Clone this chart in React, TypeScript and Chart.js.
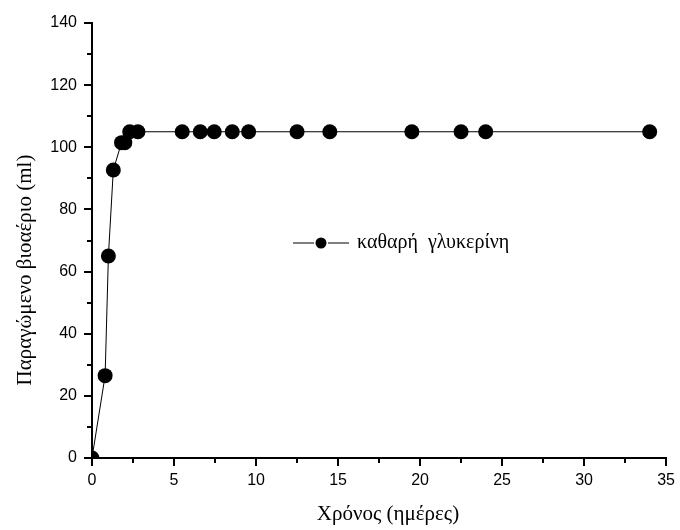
import React, { useEffect, useRef } from "react";
import { Chart, registerables } from "chart.js";

Chart.register(...registerables);

const timeDays = [0, 0.8, 1.0, 1.3, 1.8, 2.0, 2.3, 2.8, 5.5, 6.6, 7.45, 8.55, 9.55, 12.5, 14.5, 19.5, 22.5, 24, 34];
const biogasMl = [0, 26.5, 65, 92.7, 101.5, 101.5, 105, 105, 105, 105, 105, 105, 105, 105, 105, 105, 105, 105, 105];
const seriesName = "καθαρή  γλυκερίνη";
const xTitle = "Χρόνος (ημέρες)";
const yTitle = "Παραγώμενο βιοαέριο (ml)";
const xMinorTicks = [2.5, 7.5, 12.5, 17.5, 22.5, 27.5, 32.5];
const yMinorTicks = [10, 30, 50, 70, 90, 110, 130];

const SERIF = '"Liberation Serif", "Times New Roman", serif';
const SANS = '"Liberation Sans", Arial, sans-serif';

const extrasPlugin = {
  id: "extras",
  afterDraw(chart: any) {
    const ctx = chart.ctx;
    const xs = chart.scales.x;
    const ys = chart.scales.y;
    const area = chart.chartArea;
    ctx.save();
    ctx.strokeStyle = "#000";
    ctx.lineWidth = 2;
    // minor ticks
    xMinorTicks.forEach((v) => {
      const px = Math.round(xs.getPixelForValue(v));
      ctx.beginPath();
      ctx.moveTo(px, area.bottom);
      ctx.lineTo(px, area.bottom + 5);
      ctx.stroke();
    });
    yMinorTicks.forEach((v) => {
      const py = Math.round(ys.getPixelForValue(v));
      ctx.beginPath();
      ctx.moveTo(area.left, py);
      ctx.lineTo(area.left - 5, py);
      ctx.stroke();
    });
    // axis titles
    ctx.fillStyle = "#000";
    ctx.font = "21px " + SERIF;
    ctx.textAlign = "center";
    ctx.textBaseline = "alphabetic";
    ctx.fillText(xTitle, 388, 520);
    ctx.save();
    ctx.translate(31, 270);
    ctx.rotate(-Math.PI / 2);
    ctx.fillText(yTitle, 0, 0);
    ctx.restore();
    // legend
    const ly = 243;
    ctx.lineWidth = 1;
    ctx.beginPath();
    ctx.moveTo(293, ly);
    ctx.lineTo(314, ly);
    ctx.moveTo(328, ly);
    ctx.lineTo(349, ly);
    ctx.stroke();
    ctx.beginPath();
    ctx.arc(321, ly, 5.5, 0, Math.PI * 2);
    ctx.fill();
    ctx.font = "20px " + SERIF;
    ctx.textAlign = "left";
    ctx.textBaseline = "middle";
    ctx.fillText(seriesName, 357, ly);
    ctx.restore();
  },
};

export default function App() {
  const ref = useRef<HTMLCanvasElement | null>(null);
  useEffect(() => {
    if (!ref.current) return;
    const chart = new Chart(ref.current, {
      type: "line",
      data: {
        datasets: [
          {
            label: seriesName,
            data: timeDays.map((t, i) => ({ x: t, y: biogasMl[i] })),
            borderColor: "#000",
            backgroundColor: "#000",
            borderWidth: 1,
            pointRadius: 7.5,
            pointBorderWidth: 0,
            pointBackgroundColor: "#000",
            tension: 0,
            clip: 0,
          } as any,
        ],
      },
      options: {
        animation: false,
        responsive: false,
        maintainAspectRatio: false,
        layout: { padding: { top: 23, right: 10, left: 0, bottom: 0 } },
        plugins: { legend: { display: false }, tooltip: { enabled: false } },
        scales: {
          x: {
            type: "linear",
            min: 0,
            max: 35,
            ticks: { stepSize: 5, color: "#000", font: { family: SANS, size: 16 }, padding: 5, maxRotation: 0 },
            grid: { drawOnChartArea: false, drawTicks: true, tickLength: 8, color: "#000", lineWidth: 2 },
            border: { display: true, color: "#000", width: 2 },
            afterFit: (s: any) => { s.height = 72; },
          },
          y: {
            type: "linear",
            min: 0,
            max: 140,
            ticks: { stepSize: 20, color: "#000", font: { family: SANS, size: 16 }, padding: 7 },
            grid: { drawOnChartArea: false, drawTicks: true, tickLength: 8, color: "#000", lineWidth: 2 },
            border: { display: true, color: "#000", width: 2 },
            afterFit: (s: any) => { s.width = 92; },
          },
        },
      },
      plugins: [extrasPlugin],
    });
    return () => chart.destroy();
  }, []);
  return (
    <div style={{ position: "absolute", left: 0, top: 0, width: 680, height: 530, background: "#fff" }}>
      <canvas ref={ref} width={680} height={530} style={{ width: 680, height: 530 }} />
    </div>
  );
}
